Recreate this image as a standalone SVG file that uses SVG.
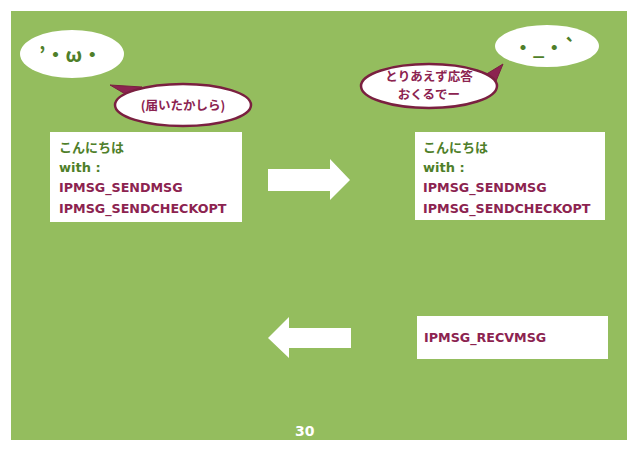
<svg xmlns="http://www.w3.org/2000/svg" width="638" height="451" viewBox="0 0 638 451">
<style>
.bg{fill:#94bd5e}
.box{fill:#ffffff}
.g{fill:#4f7f2a;font-family:"DejaVu Sans","Noto Sans CJK JP",sans-serif;font-weight:bold;font-size:13px}
.r{fill:#8c2350;font-family:"DejaVu Sans","Noto Sans CJK JP",sans-serif;font-weight:bold;font-size:12.7px}
.jr{fill:#8c2350;font-family:"Noto Sans CJK JP",sans-serif;font-weight:bold;font-size:12.5px}
.face{fill:#4f7f2a;font-family:"Noto Sans CJK JP",sans-serif;font-weight:bold;font-size:20px}
.bubble{fill:#ffffff;stroke:#7a2040;stroke-width:2.5}
.tail{fill:#8c2350;stroke:#7a2040;stroke-width:1}
.arrow{fill:#ffffff}
.num{fill:#ffffff;font-family:"DejaVu Sans",sans-serif;font-weight:bold;font-size:14px}
</style>
<rect x="0" y="0" width="638" height="451" fill="#ffffff"/>
<rect class="bg" x="11" y="11" width="616" height="429"/>

<g id="face-left">
<ellipse cx="72" cy="54" rx="52" ry="24" fill="#ffffff"/>
<text class="face" x="39" y="62">’・ω・</text>
</g>

<g id="face-right">
<ellipse cx="547" cy="46" rx="52" ry="21" fill="#ffffff"/>
<text class="face" x="513" y="55">・_・`</text>
</g>

<g id="bubble-left">
<polygon class="tail" points="110,85 142,87 127,95"/>
<ellipse class="bubble" cx="183" cy="105" rx="68" ry="21"/>
<text class="jr" x="183" y="110" text-anchor="middle">(届いたかしら)</text>
</g>

<g id="bubble-right">
<polygon class="tail" points="503,64 480,78 494,86"/>
<ellipse class="bubble" cx="429" cy="86" rx="68" ry="22"/>
<text class="jr" x="429" y="81" text-anchor="middle">とりあえず応答</text>
<text class="jr" x="429" y="99" text-anchor="middle">おくるでー</text>
</g>

<g id="box-left">
<rect class="box" x="50" y="132" width="192" height="90"/>
<text class="g" x="59" y="152">こんにちは</text>
<text class="g" x="59" y="172">with :</text>
<text class="r" x="59" y="192">IPMSG_SENDMSG</text>
<text class="r" x="59" y="213">IPMSG_SENDCHECKOPT</text>
</g>

<g id="box-right">
<rect class="box" x="415" y="132" width="190" height="88"/>
<text class="g" x="423" y="152">こんにちは</text>
<text class="g" x="423" y="172">with :</text>
<text class="r" x="423" y="192">IPMSG_SENDMSG</text>
<text class="r" x="423" y="213">IPMSG_SENDCHECKOPT</text>
</g>

<g id="box-recv">
<rect class="box" x="417" y="316" width="191" height="43"/>
<text class="r" x="424" y="342">IPMSG_RECVMSG</text>
</g>

<g id="connectors">
<polygon class="arrow" points="268,169 330,169 330,159 350,180 330,200 330,191 268,191"/>
<polygon class="arrow" points="351,328 289,328 289,317 268,338 289,358 289,348 351,348"/>
</g>

<text class="num" x="295" y="436">30</text>
</svg>
